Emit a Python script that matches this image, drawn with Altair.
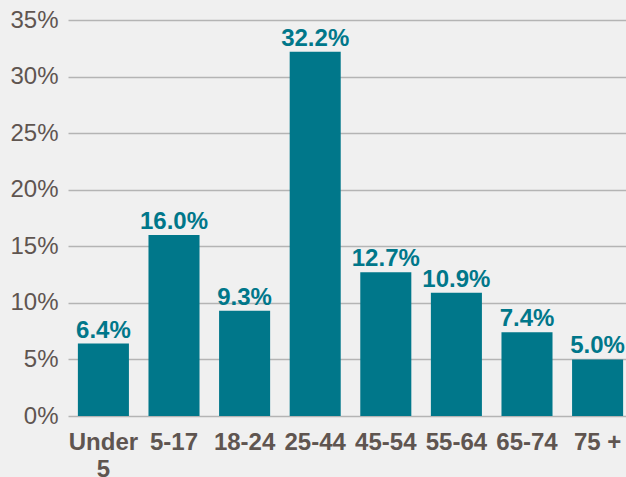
import altair as alt
import pandas as pd

age_groups = ["Under 5", "5-17", "18-24", "25-44", "45-54", "55-64", "65-74", "75 +"]
shares = [6.4, 16.0, 9.3, 32.2, 12.7, 10.9, 7.4, 5.0]
y_ticks = [0, 5, 10, 15, 20, 25, 30, 35]

df = pd.DataFrame({"group": age_groups, "share": shares})
df["label"] = [f"{v:.1f}%" for v in shares]

teal = "#00778a"
text_gray = "#5f5550"

x_enc = alt.X(
    "group:N",
    sort=age_groups,
    scale=alt.Scale(range=[0, 565], paddingInner=0.277, paddingOuter=0.14),
    axis=alt.Axis(
        title=None,
        labelAngle=0,
        domain=False,
        ticks=False,
        labelFont="Liberation Sans",
        labelFontWeight="bold",
        labelFontSize=24,
        labelColor=text_gray,
        labelPadding=14,
        labelLineHeight=27,
        labelExpr="datum.value == 'Under 5' ? ['Under', '5'] : datum.value",
    ),
)

y_enc = alt.Y(
    "share:Q",
    scale=alt.Scale(domain=[0, 35], nice=False),
    axis=alt.Axis(
        title=None,
        values=y_ticks,
        domain=False,
        ticks=False,
        grid=True,
        gridColor="#b4b4b4",
        gridWidth=1.5,
        labelFont="Liberation Sans",
        labelFontSize=24,
        labelColor=text_gray,
        labelPadding=10,
        labelExpr="datum.value + '%'",
    ),
)

bars = alt.Chart(df).mark_bar(color=teal).encode(x=x_enc, y=y_enc)

labels = alt.Chart(df).mark_text(
    baseline="alphabetic",
    dy=-6,
    font="Liberation Sans",
    fontWeight="bold",
    fontSize=24,
    color=teal,
).encode(x=alt.X("group:N", sort=age_groups), y="share:Q", text="label:N")

chart = (
    alt.layer(bars, labels)
    .properties(
        width=558,
        height=396,
        background="#f0f0f0",
        padding={"left": 68, "top": 20, "right": 0, "bottom": 61},
        autosize=alt.AutoSizeParams(type="none"),
    )
    .configure_view(stroke=None)
)

chart.save("out.html", embed_options={"renderer": "svg", "actions": False})
